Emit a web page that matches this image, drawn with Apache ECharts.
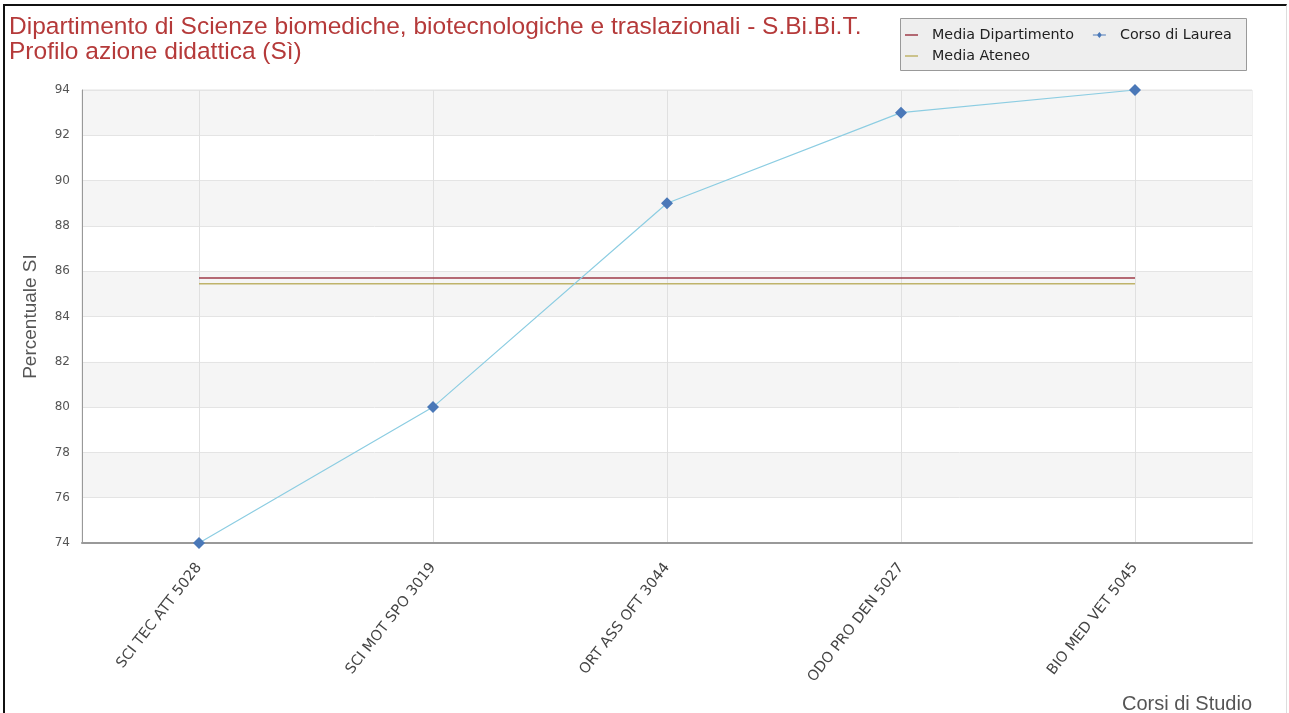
<!DOCTYPE html>
<html>
<head>
<meta charset="utf-8">
<script src="https://cdn.jsdelivr.net/npm/echarts@6/dist/echarts.min.js"></script>
<style>
html, body { margin: 0; padding: 0; background: #fff; }
#chart { position: absolute; left: 0; top: 0; width: 1289px; height: 713px; }
#frame { position: absolute; left: 3px; top: 4px; width: 1281px; height: 720px;
  border-left: 2px solid #111; border-top: 2px solid #111; border-right: 1px solid #ddd; pointer-events: none; }
</style>
</head>
<body>
<div id="chart"></div>
<div id="frame"></div>
<script>
// dati
var corsi = ['SCI TEC ATT 5028', 'SCI MOT SPO 3019', 'ORT ASS OFT 3044', 'ODO PRO DEN 5027', 'BIO MED VET 5045'];
var corsoLaurea = [74, 80, 89, 93, 94];
var mediaDipartimento = [85.7, 85.7, 85.7, 85.7, 85.7];
var mediaAteneo = [85.45, 85.45, 85.45, 85.45, 85.45];

// icone legenda: linea semplice e linea con rombo
var iconaLinea = 'path://M0,0H13V1.5H0Z';
var iconaRombo = 'path://M0,4.5H13V5.5H0Z M6.5,2L9,5L6.5,8L4,5Z';

var testoLegenda = { fontFamily: 'DejaVu Sans', fontSize: 14.3, color: '#222', padding: [0, 0, 0, 9] };

var chart = echarts.init(document.getElementById('chart'));

chart.setOption({
    animation: false,
    title: {
        text: 'Dipartimento di Scienze biomediche, biotecnologiche e traslazionali - S.Bi.Bi.T.\nProfilo azione didattica (Sì)',
        left: 9,
        top: 15,
        padding: 0,
        textStyle: { color: '#b53a3a', fontFamily: 'Liberation Sans', fontSize: 24.5, fontWeight: 'normal', lineHeight: 25 }
    },
    // box della legenda
    graphic: [
        { type: 'rect', left: 900, top: 18, z: 0,
          shape: { width: 346, height: 52 },
          style: { fill: '#eeeeee', stroke: '#999', lineWidth: 1 } },
        { type: 'text', right: 37, top: 694, z: 10,
          style: { text: 'Corsi di Studio', fill: '#555', font: '20px "Liberation Sans"' } }
    ],
    legend: [{
        data: [{ name: 'Media Dipartimento', icon: iconaLinea }, { name: 'Corso di Laurea', icon: iconaRombo }],
        left: 905, top: 28, padding: 0, itemGap: 19, itemWidth: 13, itemHeight: 10,
        textStyle: testoLegenda
    }, {
        data: [{ name: 'Media Ateneo', icon: iconaLinea }],
        left: 905, top: 49, padding: 0, itemWidth: 13, itemHeight: 10,
        textStyle: testoLegenda
    }],
    grid: { left: 82, right: 37, top: 90, bottom: 170, show: true, borderColor: '#e2e2e2', borderWidth: 1, backgroundColor: 'transparent' },
    xAxis: {
        type: 'category',
        data: corsi,
        boundaryGap: true,
        axisLine: { lineStyle: { color: '#999', width: 2 } },
        axisTick: { show: false },
        splitLine: { show: true, alignWithLabel: true, lineStyle: { color: '#e0e0e0' } },
        axisLabel: { rotate: 52, color: '#444', fontFamily: 'DejaVu Sans', fontSize: 14.5, margin: 22 }
    },
    yAxis: {
        type: 'value',
        min: 74, max: 94, interval: 2,
        name: 'Percentuale SI',
        nameLocation: 'middle',
        nameGap: 42,
        nameTextStyle: { color: '#555', fontFamily: 'Liberation Sans', fontSize: 19 },
        axisLine: { show: true, lineStyle: { color: '#999', width: 1 } },
        axisTick: { show: false },
        axisLabel: { color: '#555', fontFamily: 'DejaVu Sans', fontSize: 12, margin: 12 },
        splitLine: { lineStyle: { color: '#e4e4e4' } },
        splitArea: { show: true, areaStyle: { color: ['#ffffff', '#f5f5f5'] } }
    },
    series: [{
        name: 'Media Dipartimento',
        type: 'line',
        data: mediaDipartimento,
        showSymbol: false,
        symbol: 'none',
        itemStyle: { color: '#9e3b48' },
        lineStyle: { color: '#9e3b48', width: 1.5 }
    }, {
        name: 'Corso di Laurea',
        type: 'line',
        data: corsoLaurea,
        symbol: 'diamond',
        symbolSize: 12,
        itemStyle: { color: '#4a78b8' },
        lineStyle: { color: '#8ccde2', width: 1.2 },
        z: 5
    }, {
        name: 'Media Ateneo',
        type: 'line',
        data: mediaAteneo,
        showSymbol: false,
        symbol: 'none',
        itemStyle: { color: '#bfb36a' },
        lineStyle: { color: '#bfb36a', width: 1.5 }
    }]
});
</script>
</body>
</html>
